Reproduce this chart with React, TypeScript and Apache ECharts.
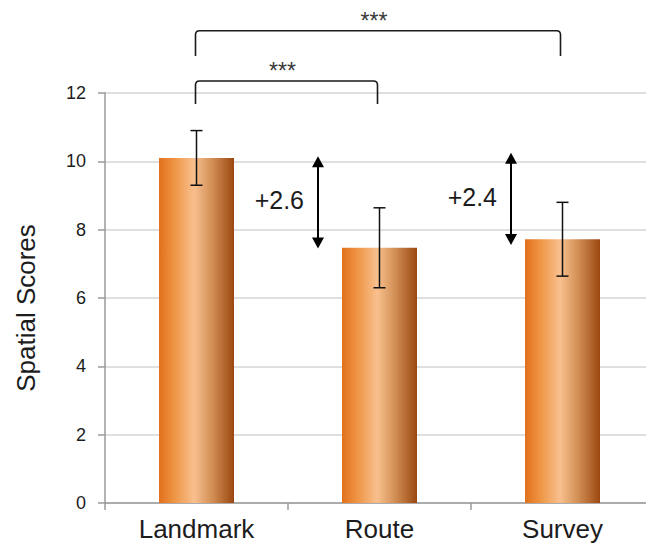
import React, { useEffect, useRef } from "react";
import * as echarts from "echarts";

const categories = ["Landmark", "Route", "Survey"];
const means = [10.1, 7.47, 7.72];
const errors = [0.8, 1.17, 1.08];

const yMin = 0;
const yMax = 12;
const yInterval = 2;

// difference arrows: [category index of arrow's bar, top value, bottom value]
const arrowCategory = [1, 2];
const arrowTop = [10.15, 10.25];
const arrowBottom = [7.45, 7.55];
const arrowLabels = ["+2.6", "+2.4"];

// significance brackets
const bracketFrom = [0, 0];
const bracketTo = [1, 2];
const bracketTop = [12.35, 13.82];
const bracketBottom = [11.68, 13.08];
const bracketLabels = ["***", "***"];

const FONT = "'Liberation Sans', Arial, sans-serif";
const TEXT = "#1c1c1c";

export default function App() {
  const ref = useRef<HTMLDivElement>(null);
  useEffect(() => {
    if (!ref.current) return;
    const chart = echarts.init(ref.current, null, { renderer: "svg" });

    const arrowShift = [-61.5, -51.5]; // px left of the bar centre
    const errData = categories.map((_, i) => [i, means[i] - errors[i], means[i] + errors[i]]);
    const arrowData = arrowCategory.map((c, i) => [c, arrowTop[i], arrowBottom[i], i]);
    const bracketData = bracketFrom.map((f, i) => [f, bracketTo[i], bracketTop[i], bracketBottom[i], i]);

    const option: any = {
      animation: false,
      grid: { left: 105, width: 549, top: 93, height: 410, containLabel: false, outerBoundsMode: "none" },
      xAxis: {
        type: "category",
        data: categories,
        axisLine: { show: true, lineStyle: { color: "#9a9a9a", width: 1.5 } },
        axisTick: { show: true, length: 7, interval: 0, lineStyle: { color: "#9a9a9a", width: 1.5 } },
        axisLabel: { fontSize: 26, color: TEXT, fontFamily: FONT, margin: 13 },
        splitLine: { show: false },
      },
      yAxis: {
        type: "value",
        min: yMin,
        max: yMax,
        interval: yInterval,
        name: "Spatial Scores",
        nameLocation: "middle",
        nameGap: 66,
        nameTextStyle: { fontSize: 26, color: TEXT, fontFamily: FONT, padding: [0, 20, 0, 0] },
        axisLine: { show: true, lineStyle: { color: "#9a9a9a", width: 1.5 } },
        axisTick: { show: true, length: 7, lineStyle: { color: "#9a9a9a", width: 1.5 } },
        axisLabel: { fontSize: 18, color: TEXT, fontFamily: FONT, margin: 19 },
        splitLine: { show: true, lineStyle: { color: "#d4d4d4", width: 1.5 } },
      },
      series: [
        {
          type: "bar",
          data: means,
          barWidth: 75,
          itemStyle: {
            color: {
              type: "linear",
              x: 0, y: 0, x2: 1, y2: 0,
              colorStops: [
                { offset: 0, color: "#E2701C" },
                { offset: 0.2, color: "#EE9444" },
                { offset: 0.47, color: "#F8C08E" },
                { offset: 0.72, color: "#D08C52" },
                { offset: 1, color: "#9A4810" },
              ],
            },
          },
          z: 2,
        },
        {
          type: "custom",
          data: errData,
          encode: { x: 0, y: [1, 2] },
          z: 3,
          renderItem: (params: any, api: any) => {
            const lo = api.coord([api.value(0), api.value(1)]);
            const hi = api.coord([api.value(0), api.value(2)]);
            const w = 6;
            const st = { stroke: "#111", lineWidth: 1.5 };
            return {
              type: "group",
              children: [
                { type: "line", shape: { x1: lo[0], y1: lo[1], x2: hi[0], y2: hi[1] }, style: st },
                { type: "line", shape: { x1: lo[0] - w, y1: lo[1], x2: lo[0] + w, y2: lo[1] }, style: st },
                { type: "line", shape: { x1: hi[0] - w, y1: hi[1], x2: hi[0] + w, y2: hi[1] }, style: st },
              ],
            };
          },
        },
        {
          type: "custom",
          data: arrowData,
          encode: { x: 0, y: [1, 2] },
          z: 4,
          clip: false,
          renderItem: (params: any, api: any) => {
            const idx = api.value(3);
            const t = api.coord([api.value(0), api.value(1)]);
            const b = api.coord([api.value(0), api.value(2)]);
            const x = t[0] + arrowShift[idx];
            const hw = 6;
            const hl = 11;
            const ty = t[1];
            const by = b[1];
            return {
              type: "group",
              children: [
                { type: "line", shape: { x1: x, y1: ty + hl - 1, x2: x, y2: by - hl + 1 }, style: { stroke: "#000", lineWidth: 2 } },
                { type: "polygon", shape: { points: [[x, ty], [x - hw, ty + hl], [x + hw, ty + hl]] }, style: { fill: "#000" } },
                { type: "polygon", shape: { points: [[x, by], [x - hw, by - hl], [x + hw, by - hl]] }, style: { fill: "#000" } },
                {
                  type: "text",
                  x: x - 14,
                  y: (ty + by) / 2 - 2,
                  style: {
                    text: arrowLabels[idx],
                    fontSize: 25,
                    fontFamily: FONT,
                    fill: TEXT,
                    align: "right",
                    verticalAlign: "middle",
                  },
                },
              ],
            };
          },
        },
        {
          type: "custom",
          data: bracketData,
          encode: { x: 0, y: [2, 3] },
          z: 4,
          clip: false,
          renderItem: (params: any, api: any) => {
            const idx = api.value(4);
            const l = api.coord([api.value(0), api.value(2)]);
            const r = api.coord([api.value(1), api.value(3)]);
            const x1 = l[0] - 1;
            const x2 = r[0] - 2;
            const yt = l[1];
            const yb = r[1];
            const rr = 4;
            const d = `M${x1} ${yb} L${x1} ${yt + rr} Q${x1} ${yt} ${x1 + rr} ${yt} L${x2 - rr} ${yt} Q${x2} ${yt} ${x2} ${yt + rr} L${x2} ${yb}`;
            return {
              type: "group",
              children: [
                { type: "path", shape: { pathData: d }, style: { stroke: "#1a1a1a", lineWidth: 1.6, fill: null } },
                {
                  type: "text",
                  x: (x1 + x2) / 2 - 4,
                  y: yt - 10,
                  style: {
                    text: bracketLabels[idx],
                    fontSize: 23,
                    fontFamily: FONT,
                    fill: "#3a3a3a",
                    align: "center",
                    verticalAlign: "middle",
                  },
                },
              ],
            };
          },
        },
      ],
    };
    chart.setOption(option);
    return () => chart.dispose();
  }, []);
  return (
    <div
      ref={ref}
      style={{ position: "absolute", left: 0, top: 0, width: 646, height: 547, background: "#fff" }}
    />
  );
}
